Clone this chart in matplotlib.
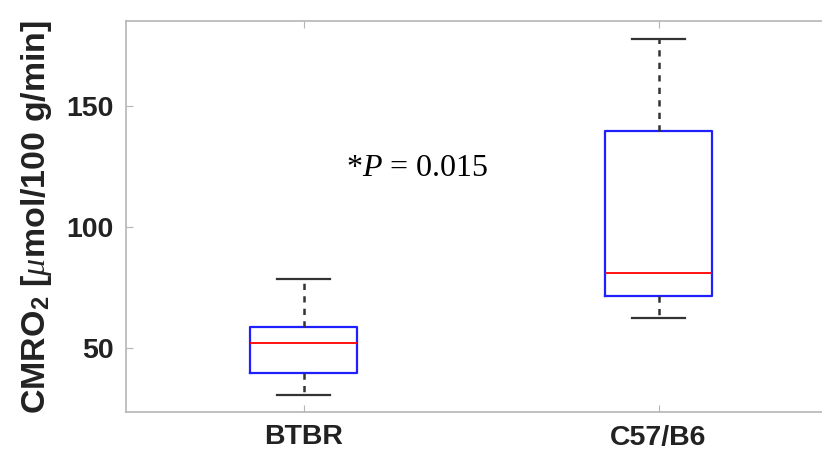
import matplotlib
matplotlib.use('Agg')
import matplotlib.pyplot as plt

# box statistics
groups = ['BTBR', 'C57/B6']
whisker_low = [30.8, 62.4]
q1 = [39.8, 71.6]
median = [52.2, 80.9]
q3 = [58.8, 139.6]
whisker_high = [78.6, 177.5]

plt.rcParams['font.family'] = ['Liberation Sans', 'DejaVu Sans']
plt.rcParams['mathtext.fontset'] = 'custom'
plt.rcParams['mathtext.it'] = 'Liberation Serif:italic'
plt.rcParams['mathtext.rm'] = 'Liberation Sans:bold'

fig = plt.figure(figsize=(8.22, 4.57), dpi=100)
# axes run past the right edge (picture is cropped there)
ax = fig.add_axes([126 / 822, 45 / 457, 710 / 822, 391 / 457])

stats = []
for i in range(len(groups)):
    stats.append({'whislo': whisker_low[i], 'q1': q1[i], 'med': median[i],
                  'q3': q3[i], 'whishi': whisker_high[i], 'fliers': []})

ax.bxp(stats, positions=[1, 2], widths=0.3, showfliers=False,
       boxprops=dict(color='#1f1fff', linewidth=1.6),
       medianprops=dict(color='red', linewidth=1.3),
       whiskerprops=dict(color='#333333', linestyle=(0, (2.5, 2.5)), linewidth=1.8),
       capprops=dict(color='#333333', linewidth=1.6),
       capwidths=0.15)

ax.set_xlim(0.5, 2.5)
ax.set_ylim(23.7, 184.9)
ax.set_xticks([1, 2])
ax.set_xticklabels(groups)
ax.set_yticks([50, 100, 150])

for s in ax.spines.values():
    s.set_color('#b5b5b5')
    s.set_linewidth(1.2)
ax.tick_params(direction='in', length=5, color='#b5b5b5', top=True, right=True,
               labelsize=20.5, labelcolor='#222222', pad=9)
for lab in ax.get_xticklabels() + ax.get_yticklabels():
    lab.set_fontweight('bold')

ax.set_ylabel(r'CMRO$_2$ [$\mathit{\mu}$mol/100 g/min]', fontsize=24.5,
              fontweight='bold', color='#222222', labelpad=9)

ax.text(1.32, 124, r'*$\mathit{P}$ = 0.015', fontsize=23, family='Liberation Serif',
        ha='center', va='center', color='black')

fig.savefig('out.png', dpi=100)
